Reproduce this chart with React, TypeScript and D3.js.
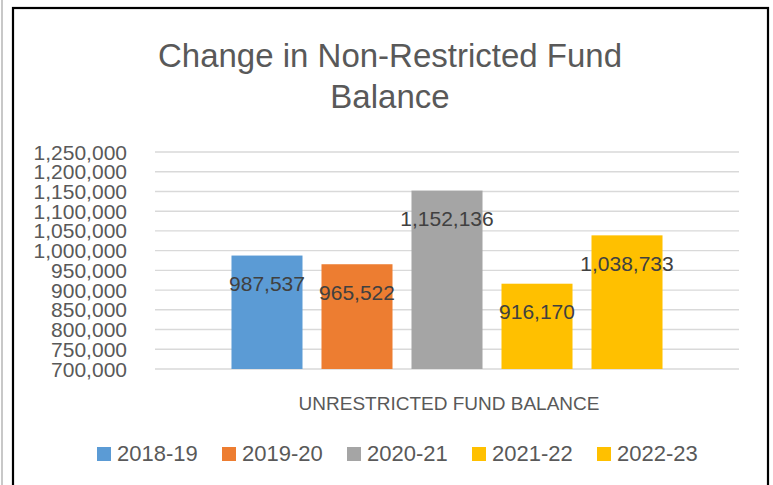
import React from 'react';
import * as d3 from 'd3';

const category = 'UNRESTRICTED FUND BALANCE';
const seriesNames = ['2018-19', '2019-20', '2020-21', '2021-22', '2022-23'];
const seriesValues = [987537, 965522, 1152136, 916170, 1038733];
const seriesColors = ['#5B9BD5', '#ED7D31', '#A5A5A5', '#FFC000', '#FFC000'];
const yTickValues = [700000, 750000, 800000, 850000, 900000, 950000, 1000000, 1050000, 1100000, 1150000, 1200000, 1250000];

const width = 773;
const height = 485;
const plot = { left: 155, right: 739, top: 152, bottom: 369 };
const font = '"Liberation Sans", Arial, sans-serif';
const fmt = d3.format(',');

const App = () => {
  const y = d3.scaleLinear().domain([700000, 1250000]).range([plot.bottom, plot.top]);

  const x0 = d3.scaleBand()
    .domain([category])
    .range([plot.left, plot.right])
    .paddingInner(0)
    .paddingOuter(0.149);

  const x1 = d3.scaleBand()
    .domain(seriesNames)
    .range([0, x0.bandwidth()])
    .paddingInner(0.211)
    .paddingOuter(0.105);

  const gx = x0(category);

  return (
    <div style={{ position: 'absolute', left: 0, top: 0 }}>
      <svg width={width} height={height} style={{ display: 'block', background: '#fff' }}>
        {/* outer frame */}
        <rect x={1} y={0} width={2} height={height} fill="#c8c8c8" />
        <rect x={13} y={8} width={755} height={height} fill="none" stroke="#000" strokeWidth={2.2} />

        {/* title */}
        <text x={390} y={67} textAnchor="middle" fontFamily={font} fontSize={33} fill="#595959">
          Change in Non-Restricted Fund
        </text>
        <text x={390} y={108} textAnchor="middle" fontFamily={font} fontSize={33} fill="#595959">
          Balance
        </text>

        {/* gridlines + y labels */}
        {yTickValues.map((t) => (
          <g key={t}>
            <line x1={plot.left} x2={plot.right} y1={y(t)} y2={y(t)} stroke="#d9d9d9" strokeWidth={1.4} />
            <text x={127} y={y(t)} dy="0.36em" textAnchor="end" fontFamily={font} fontSize={21} fill="#595959">
              {fmt(t)}
            </text>
          </g>
        ))}

        {/* bars */}
        {seriesNames.map((s, i) => (
          <rect
            key={s}
            x={gx + x1(s)}
            y={y(seriesValues[i])}
            width={x1.bandwidth()}
            height={plot.bottom - y(seriesValues[i])}
            fill={seriesColors[i]}
          />
        ))}

        {/* value labels */}
        {seriesNames.map((s, i) => (
          <text
            key={s}
            x={gx + x1(s) + x1.bandwidth() / 2}
            y={y(seriesValues[i]) + 28}
            dy="0.36em"
            textAnchor="middle"
            fontFamily={font}
            fontSize={21}
            fill="#404040"
          >
            {fmt(seriesValues[i])}
          </text>
        ))}

        {/* category label */}
        <text x={gx + x0.bandwidth() / 2 + 2} y={410} textAnchor="middle" fontFamily={font} fontSize={19} fill="#595959">
          {category}
        </text>

        {/* legend */}
        {seriesNames.map((s, i) => (
          <g key={s} transform={`translate(${97 + i * 125}, 447)`}>
            <rect x={0} y={0} width={14} height={14} fill={seriesColors[i]} />
            <text x={20} y={14} fontFamily={font} fontSize={22} fill="#595959">
              {s}
            </text>
          </g>
        ))}
      </svg>
    </div>
  );
};

export default App;
